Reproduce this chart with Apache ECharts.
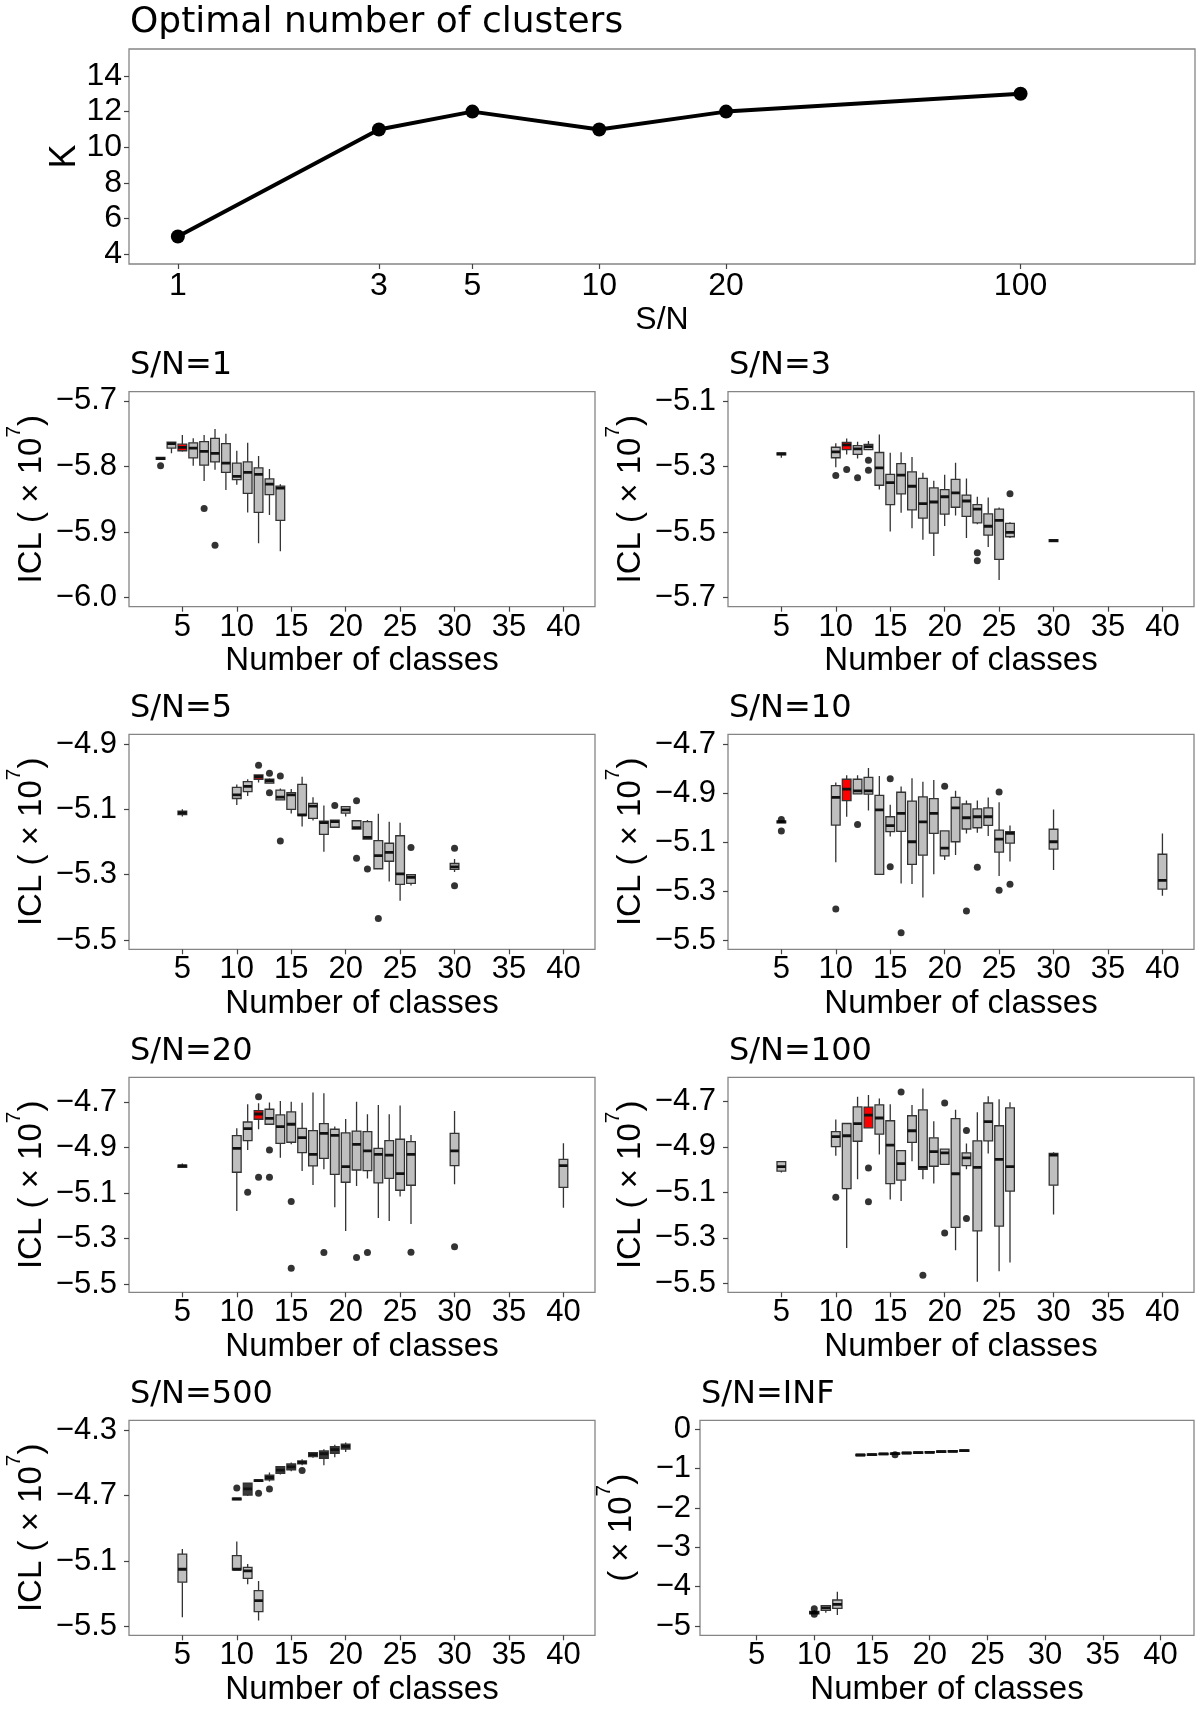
<!DOCTYPE html>
<html><head><meta charset="utf-8">
<script src="https://cdn.jsdelivr.net/npm/echarts@6/dist/echarts.min.js"></script>
<style>html,body{margin:0;padding:0;background:#fff}#c{width:1200px;height:1714px}</style>
</head><body><div id="c"></div>
<script>
// ---------- top panel data ----------
const snLevels = [1, 3, 5, 10, 20, 100];
const optimalK = [5, 11, 12, 11, 12, 13];
const kTicks = [4, 6, 8, 10, 12, 14];
const classTicks = [5, 10, 15, 20, 25, 30, 35, 40];

// ---------- box plot data: [min, Q1, median, Q3, max] (x 10^7) ----------
const sn1_k = [3,4,5,6,7,8,9,10,11,12,13,14];
const sn1_stats = [
 [-5.789,-5.789,-5.788,-5.786,-5.786],[-5.780,-5.772,-5.765,-5.763,-5.763],
 [-5.777,-5.776,-5.771,-5.766,-5.752],[-5.799,-5.787,-5.772,-5.764,-5.757],
 [-5.822,-5.798,-5.777,-5.762,-5.752],[-5.805,-5.793,-5.780,-5.757,-5.743],
 [-5.836,-5.809,-5.795,-5.765,-5.750],[-5.828,-5.820,-5.815,-5.795,-5.776],
 [-5.870,-5.841,-5.809,-5.793,-5.764],[-5.917,-5.870,-5.812,-5.802,-5.784],
 [-5.874,-5.843,-5.827,-5.819,-5.804],[-5.929,-5.882,-5.833,-5.830,-5.827]];
const sn1_out = [[3,-5.799],[7,-5.864],[8,-5.920]];
const sn1_yticks = [-6.0,-5.9,-5.8,-5.7];

const sn3_k = [5,10,11,12,13,14,15,16,17,18,19,20,21,22,23,24,25,26,30];
const sn3_stats = [
 [-5.273,-5.264,-5.261,-5.258,-5.258],[-5.302,-5.273,-5.255,-5.241,-5.229],
 [-5.263,-5.248,-5.234,-5.226,-5.214],[-5.275,-5.263,-5.246,-5.236,-5.224],
 [-5.248,-5.248,-5.239,-5.232,-5.222],[-5.370,-5.357,-5.304,-5.257,-5.202],
 [-5.498,-5.416,-5.349,-5.324,-5.258],[-5.441,-5.383,-5.326,-5.291,-5.256],
 [-5.488,-5.432,-5.360,-5.316,-5.271],[-5.523,-5.457,-5.413,-5.336,-5.319],
 [-5.573,-5.503,-5.408,-5.365,-5.343],[-5.481,-5.445,-5.392,-5.370,-5.325],
 [-5.449,-5.424,-5.380,-5.339,-5.288],[-5.518,-5.452,-5.405,-5.387,-5.336],
 [-5.476,-5.472,-5.430,-5.416,-5.392],[-5.545,-5.509,-5.482,-5.444,-5.394],
 [-5.646,-5.583,-5.464,-5.430,-5.425],[-5.518,-5.514,-5.501,-5.473,-5.470],
 [-5.529,-5.529,-5.526,-5.523,-5.523]];
const sn3_out = [[10,-5.327],[11,-5.309],[12,-5.334],[13,-5.281],[13,-5.311],[23,-5.563],[23,-5.587],[26,-5.383]];
const sn3_yticks = [-5.7,-5.5,-5.3,-5.1];

const sn5_k = [5,10,11,12,13,14,15,16,17,18,19,20,21,22,23,24,25,26,30];
const sn5_stats = [
 [-5.122,-5.116,-5.111,-5.106,-5.100],[-5.087,-5.067,-5.056,-5.033,-5.024],
 [-5.059,-5.046,-5.030,-5.015,-5.008],[-5.018,-5.008,-5.000,-4.995,-4.995],
 [-5.020,-5.020,-5.013,-5.008,-5.006],[-5.071,-5.071,-5.063,-5.041,-5.036],
 [-5.113,-5.100,-5.056,-5.049,-5.038],[-5.153,-5.119,-5.117,-5.024,-5.000],
 [-5.134,-5.128,-5.090,-5.082,-5.063],[-5.230,-5.177,-5.141,-5.136,-5.088],
 [-5.155,-5.155,-5.138,-5.133,-5.133],[-5.122,-5.112,-5.102,-5.092,-5.092],
 [-5.161,-5.161,-5.156,-5.135,-5.135],[-5.191,-5.191,-5.186,-5.138,-5.133],
 [-5.282,-5.282,-5.242,-5.196,-5.114],[-5.321,-5.259,-5.232,-5.204,-5.138],
 [-5.380,-5.330,-5.298,-5.181,-5.141],[-5.333,-5.327,-5.308,-5.300,-5.300],
 [-5.292,-5.284,-5.276,-5.266,-5.252]];
const sn5_out = [[12,-4.965],[13,-4.990],[13,-5.049],[14,-4.998],[14,-5.197],[19,-5.088],[21,-5.074],[21,-5.250],[22,-5.283],[23,-5.434],[26,-5.217],[30,-5.219],[30,-5.334]];
const sn5_yticks = [-5.5,-5.3,-5.1,-4.9];

const sn10_k = [5,10,11,12,13,14,15,16,17,18,19,20,21,22,23,24,25,26,30,40];
const sn10_stats = [
 [-5.022,-5.022,-5.018,-5.014,-5.014],[-5.183,-5.031,-4.918,-4.870,-4.857],
 [-4.997,-4.931,-4.884,-4.844,-4.828],[-4.904,-4.904,-4.891,-4.844,-4.828],
 [-4.972,-4.905,-4.891,-4.836,-4.798],[-5.232,-5.232,-4.969,-4.910,-4.831],
 [-5.078,-5.058,-5.033,-4.997,-4.948],[-5.269,-5.057,-4.983,-4.897,-4.874],
 [-5.271,-5.191,-5.099,-4.933,-4.840],[-5.327,-5.154,-5.018,-4.916,-4.854],
 [-5.232,-5.065,-4.983,-4.923,-4.847],[-5.174,-5.157,-5.125,-5.055,-5.055],
 [-5.153,-5.099,-4.961,-4.918,-4.891],[-5.065,-5.047,-5.001,-4.945,-4.931],
 [-5.062,-5.042,-4.997,-4.965,-4.931],[-5.076,-5.032,-4.997,-4.961,-4.918],
 [-5.239,-5.141,-5.088,-5.052,-4.938],[-5.180,-5.105,-5.065,-5.058,-5.033],
 [-5.214,-5.129,-5.099,-5.048,-4.967],[-5.319,-5.292,-5.257,-5.150,-5.065]];
const sn10_out = [[5,-5.008],[5,-5.055],[10,-5.374],[12,-5.029],[15,-4.842],[15,-5.201],[16,-5.470],[20,-4.873],[22,-5.382],[23,-5.203],[25,-4.896],[25,-5.297],[26,-5.273]];
const sn10_yticks = [-5.5,-5.3,-5.1,-4.9,-4.7];

const sn20_k = [5,10,11,12,13,14,15,16,17,18,19,20,21,22,23,24,25,26,30,40];
const sn20_stats = [
 [-4.987,-4.987,-4.981,-4.978,-4.970],[-5.179,-5.009,-4.904,-4.848,-4.816],
 [-4.911,-4.870,-4.817,-4.788,-4.710],[-4.820,-4.776,-4.753,-4.738,-4.706],
 [-4.798,-4.798,-4.772,-4.732,-4.702],[-4.945,-4.882,-4.808,-4.757,-4.696],
 [-4.886,-4.877,-4.798,-4.744,-4.699],[-5.003,-4.923,-4.857,-4.816,-4.703],
 [-5.065,-4.981,-4.930,-4.826,-4.658],[-4.996,-4.948,-4.838,-4.795,-4.662],
 [-5.163,-5.018,-4.847,-4.820,-4.808],[-5.267,-5.053,-4.984,-4.836,-4.775],
 [-5.069,-4.999,-4.886,-4.828,-4.699],[-5.036,-5.002,-4.915,-4.830,-4.754],
 [-5.210,-5.056,-4.930,-4.904,-4.713],[-5.223,-5.036,-4.934,-4.870,-4.754],
 [-5.116,-5.088,-5.015,-4.864,-4.716],[-5.236,-5.066,-4.930,-4.874,-4.845],
 [-5.062,-4.980,-4.915,-4.838,-4.740],[-5.165,-5.075,-4.980,-4.952,-4.882]];
const sn20_out = [[11,-5.097],[12,-4.677],[12,-5.031],[13,-4.911],[13,-5.031],[15,-5.138],[15,-5.431],[18,-5.362],[21,-5.384],[22,-5.362],[26,-5.361],[30,-5.336]];
const sn20_yticks = [-5.5,-5.3,-5.1,-4.9,-4.7];

const sn100_k = [5,10,11,12,13,14,15,16,17,18,19,20,21,22,23,24,25,26,30];
const sn100_stats = [
 [-5.012,-5.006,-4.987,-4.965,-4.963],[-4.939,-4.899,-4.855,-4.833,-4.779],
 [-5.344,-5.083,-4.851,-4.797,-4.797],[-5.042,-4.875,-4.798,-4.724,-4.680],
 [-4.816,-4.816,-4.760,-4.725,-4.672],[-4.933,-4.844,-4.773,-4.715,-4.687],
 [-5.131,-5.061,-4.892,-4.785,-4.713],[-5.138,-5.046,-4.973,-4.916,-4.916],
 [-4.963,-4.880,-4.829,-4.763,-4.716],[-5.042,-4.999,-4.990,-4.737,-4.643],
 [-5.061,-4.985,-4.921,-4.860,-4.787],[-4.977,-4.977,-4.926,-4.910,-4.910],
 [-5.354,-5.254,-5.018,-4.776,-4.737],[-4.998,-4.982,-4.948,-4.926,-4.885],
 [-5.493,-5.269,-4.990,-4.873,-4.748],[-4.929,-4.873,-4.789,-4.707,-4.677],
 [-5.446,-5.248,-4.955,-4.807,-4.691],[-5.408,-5.094,-4.987,-4.728,-4.704],
 [-5.197,-5.068,-4.936,-4.929,-4.923]];
const sn100_out = [[10,-5.121],[13,-4.993],[13,-5.141],[16,-4.659],[18,-5.464],[20,-4.707],[20,-5.278],[22,-4.828],[22,-5.215]];
const sn100_yticks = [-5.5,-5.3,-5.1,-4.9,-4.7];

const sn500_k = [5,10,11,12];
const sn500_stats = [
 [-5.443,-5.229,-5.150,-5.057,-5.026],[-5.154,-5.154,-5.150,-5.067,-4.981],
 [-5.242,-5.205,-5.160,-5.138,-5.118],[-5.463,-5.408,-5.341,-5.280,-5.221]];
const sn500hi_k = [10,11,12,13,14,15,16,17,18,19,20];
const sn500hi_stats = [
 [-4.726,-4.726,-4.721,-4.716,-4.716],[-4.703,-4.697,-4.660,-4.625,-4.625],
 [-4.614,-4.614,-4.609,-4.604,-4.604],[-4.615,-4.605,-4.590,-4.575,-4.560],
 [-4.571,-4.564,-4.545,-4.524,-4.524],[-4.552,-4.544,-4.525,-4.507,-4.499],
 [-4.516,-4.507,-4.498,-4.489,-4.479],[-4.469,-4.463,-4.450,-4.438,-4.438],
 [-4.516,-4.473,-4.445,-4.428,-4.418],[-4.467,-4.442,-4.420,-4.402,-4.390],
 [-4.434,-4.416,-4.400,-4.387,-4.377]];
const sn500_out = [[10,-4.654],[12,-4.686],[13,-4.660],[16,-4.548]];
const sn500_yticks = [-5.5,-5.1,-4.7,-4.3];

const inf_k = [10,11,12,14,15,16,17,18,19,20,21,22,23];
const inf_stats = [
 [-4.700,-4.690,-4.660,-4.630,-4.600],[-4.661,-4.602,-4.540,-4.483,-4.483],
 [-4.720,-4.551,-4.449,-4.339,-4.127],[-0.669,-0.669,-0.653,-0.637,-0.637],
 [-0.660,-0.660,-0.644,-0.628,-0.628],[-0.643,-0.643,-0.627,-0.611,-0.611],
 [-0.635,-0.635,-0.619,-0.603,-0.603],[-0.618,-0.618,-0.602,-0.586,-0.586],
 [-0.609,-0.609,-0.593,-0.577,-0.577],[-0.601,-0.601,-0.585,-0.569,-0.569],
 [-0.584,-0.584,-0.568,-0.552,-0.552],[-0.575,-0.575,-0.559,-0.543,-0.543],
 [-0.558,-0.558,-0.542,-0.526,-0.526]];
const inf_out = [[10,-4.560],[10,-4.700],[17,-0.648]];
const inf_yticks = [-5,-4,-3,-2,-1,0];

// ---------- layout ----------
const FONT = "'Liberation Sans', Arial, sans-serif";
const TFONT = "'DejaVu Sans', sans-serif";
const FRAME = '#858585';
const rowTops = [391.7, 734.3, 1077.3, 1420.3];
const PH = 215;

const panels = [
 {title:'S/N=1',   k:sn1_k,   stats:sn1_stats,   out:sn1_out,   opt:optimalK[0], yMin:-6.0137, yMax:-5.686, yt:sn1_yticks,   dec:1, col:0, row:0},
 {title:'S/N=3',   k:sn3_k,   stats:sn3_stats,   out:sn3_out,   opt:optimalK[1], yMin:-5.7275, yMax:-5.0715, yt:sn3_yticks, dec:1, col:1, row:0},
 {title:'S/N=5',   k:sn5_k,   stats:sn5_stats,   out:sn5_out,   opt:optimalK[2], yMin:-5.5286, yMax:-4.8704, yt:sn5_yticks, dec:1, col:0, row:1},
 {title:'S/N=10',  k:sn10_k,  stats:sn10_stats,  out:sn10_out,  opt:optimalK[3], yMin:-5.538, yMax:-4.6605, yt:sn10_yticks,  dec:1, col:1, row:1},
 {title:'S/N=20',  k:sn20_k,  stats:sn20_stats,  out:sn20_out,  opt:optimalK[4], yMin:-5.5366, yMax:-4.5916, yt:sn20_yticks, dec:1, col:0, row:2},
 {title:'S/N=100', k:sn100_k, stats:sn100_stats, out:sn100_out, opt:optimalK[5], yMin:-5.539, yMax:-4.594, yt:sn100_yticks,  dec:1, col:1, row:2},
 {title:'S/N=500', k:sn500_k, stats:sn500_stats, out:sn500_out, opt:null, yMin:-5.5529, yMax:-4.241, yt:sn500_yticks, dec:1, col:0, row:3,
   k2:sn500hi_k, stats2:sn500hi_stats},
 {title:'S/N=INF', k:inf_k,   stats:inf_stats,   out:inf_out,   opt:null, yMin:-5.237, yMax:0.229, yt:inf_yticks, dec:0, col:1, row:3, inf:true}
];

const grids = [], xAxes = [], yAxes = [], series = [], titles = [];

titles.push({text:'Optimal number of clusters', left:130, top:5, padding:0,
  textStyle:{fontFamily:TFONT, fontSize:36, fontWeight:'normal', color:'#000'}});

// top panel
grids.push({left:129, top:49, width:1066, height:215, show:true, borderColor:FRAME, borderWidth:1.3});
const logTicks = snLevels.map(v => Math.log10(v));
xAxes.push({type:'value', gridIndex:0, min:-0.116, max:2.414, splitLine:{show:false}, axisLine:{show:false, onZero:false},
  axisTick:{show:true, length:5, lineStyle:{color:'#444', width:1.2}, customValues:logTicks},
  axisLabel:{customValues:logTicks, formatter:v => String(Math.round(Math.pow(10, v))), fontFamily:FONT, fontSize:32, color:'#000', margin:6},
  name:'S/N', nameLocation:'middle', nameGap:40, nameMoveOverlap:false, nameTextStyle:{fontFamily:FONT, fontSize:32, color:'#000'}});
yAxes.push({type:'value', gridIndex:0, min:3.456, max:15.51, splitLine:{show:false}, axisLine:{show:false, onZero:false},
  axisTick:{show:true, length:5, lineStyle:{color:'#444', width:1.2}, customValues:kTicks},
  axisLabel:{customValues:kTicks, fontFamily:FONT, fontSize:32, color:'#000', margin:7},
  name:'K', nameLocation:'middle', nameRotate:90, nameGap:46, nameMoveOverlap:false,
  nameTextStyle:{fontFamily:FONT, fontSize:36, color:'#000'}});
series.push({type:'line', xAxisIndex:0, yAxisIndex:0,
  data: snLevels.map((s, i) => [Math.log10(s), optimalK[i]]),
  symbol:'circle', symbolSize:14, lineStyle:{width:4, color:'#000'}, itemStyle:{color:'#000'}});

function makeBoxRenderer(fillNormal) {
  return function (params, api) {
    const k = api.value(0);
    const lo = api.coord([k, api.value(1)]);
    const q1 = api.coord([k, api.value(2)]);
    const md = api.coord([k, api.value(3)]);
    const q3 = api.coord([k, api.value(4)]);
    const hi = api.coord([k, api.value(5)]);
    const isOpt = api.value(6) === 1;
    const hw = api.size([0.8, 0])[0] / 2;
    const x = md[0];
    const fill = isOpt ? '#ff0000' : fillNormal;
    return {type:'group', children:[
      {type:'line', shape:{x1:x, y1:hi[1], x2:x, y2:q3[1]}, style:{stroke:'#333', lineWidth:1.3}},
      {type:'line', shape:{x1:x, y1:q1[1], x2:x, y2:lo[1]}, style:{stroke:'#333', lineWidth:1.3}},
      {type:'rect', shape:{x:x - hw, y:q3[1], width:2 * hw, height:Math.max(q1[1] - q3[1], 0.6)},
        style:{fill:fill, stroke:'#333', lineWidth:1.3}},
      {type:'line', shape:{x1:x - hw, y1:md[1], x2:x + hw, y2:md[1]}, style:{stroke:'#111', lineWidth:2.8}}
    ]};
  };
}

panels.forEach((p, i) => {
  const gi = i + 1;
  const left = p.inf ? 700 : (p.col === 0 ? 129 : 728);
  const width = p.inf ? 494 : 466;
  const top = rowTops[p.row];
  grids.push({left:left, top:top, width:width, height:PH, show:true, borderColor:FRAME, borderWidth:1.3});
  titles.push({text:p.title, left:left + 1, top:top - 42, padding:0,
    textStyle:{fontFamily:TFONT, fontSize:32, fontWeight:'normal', color:'#000'}});
  xAxes.push({type:'value', gridIndex:gi, min:0.1, max:42.9, splitLine:{show:false}, axisLine:{show:false, onZero:false},
    axisTick:{show:true, length:5, lineStyle:{color:'#444', width:1.2}, customValues:classTicks},
    axisLabel:{customValues:classTicks, fontFamily:FONT, fontSize:31, color:'#000', margin:5},
    name:'Number of classes', nameLocation:'middle', nameGap:38, nameMoveOverlap:false,
    nameTextStyle:{fontFamily:FONT, fontSize:33, color:'#000'}});
  const yname = p.inf ? '{m|( × 10}{s|7}{m|)}' : '{m|ICL ( × 10}{s|7}{m|)}';
  yAxes.push({type:'value', gridIndex:gi, min:p.yMin, max:p.yMax, splitLine:{show:false}, axisLine:{show:false, onZero:false},
    axisTick:{show:true, length:5, lineStyle:{color:'#444', width:1.2}, customValues:p.yt},
    axisLabel:{customValues:p.yt, fontFamily:FONT, fontSize:31, color:'#000', margin:p.inf ? 9 : 12,
      formatter:v => (v < 0 ? '\u2212' : '') + Math.abs(v).toFixed(p.dec)},
    name:yname, nameLocation:'middle', nameRotate:90, nameGap:p.inf ? 62 : 81, nameMoveOverlap:false,
    nameTextStyle:{rich:{
      m:{fontFamily:FONT, fontSize:33, color:'#000', lineHeight:44, verticalAlign:'bottom'},
      s:{fontFamily:FONT, fontSize:21, color:'#000', lineHeight:21, verticalAlign:'top'}}}});
  const boxData = p.k.map((k, j) => [k].concat(p.stats[j]).concat([k === p.opt ? 1 : 0]));
  series.push({type:'custom', xAxisIndex:gi, yAxisIndex:gi, renderItem:makeBoxRenderer('#bfbfbf'),
    data:boxData, encode:{x:0, y:[1, 2, 3, 4, 5]}, clip:true, z:2});
  if (p.k2) {
    const boxData2 = p.k2.map((k, j) => [k].concat(p.stats2[j]).concat([0]));
    series.push({type:'custom', xAxisIndex:gi, yAxisIndex:gi, renderItem:makeBoxRenderer('#3a3a3a'),
      data:boxData2, encode:{x:0, y:[1, 2, 3, 4, 5]}, clip:true, z:2});
  }
  series.push({type:'scatter', xAxisIndex:gi, yAxisIndex:gi, data:p.out, symbol:'circle', symbolSize:7,
    itemStyle:{color:'#000'}, z:3});
});

const chart = echarts.init(document.getElementById('c'), null, {renderer:'canvas'});
chart.setOption({
  animation:false, backgroundColor:'#fff',
  title:titles, grid:grids, xAxis:xAxes, yAxis:yAxes, series:series
});
</script></body></html>
